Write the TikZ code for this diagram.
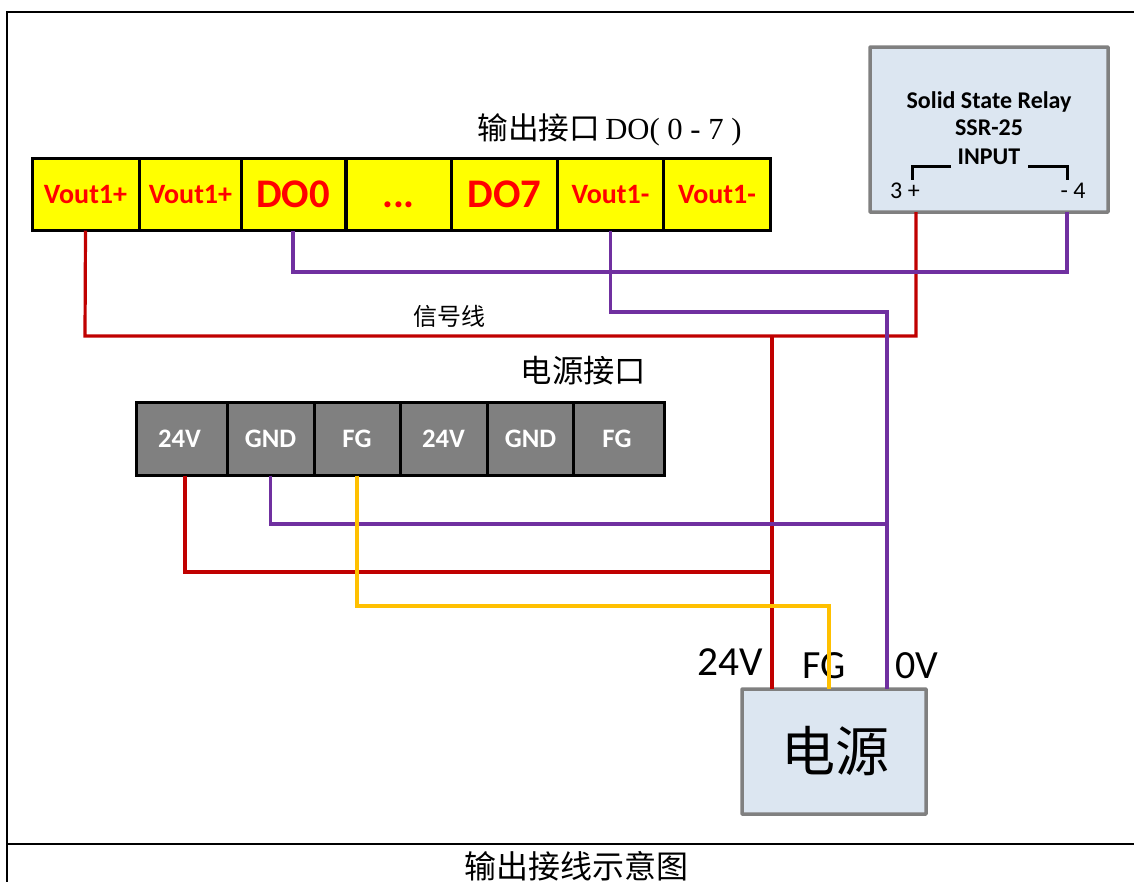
\documentclass[tikz,border=0pt]{standalone}
\usepackage{fontspec}
\setmainfont{Carlito}
\newfontfamily\cjk{Noto Sans CJK SC}
\newfontfamily\serifl{Liberation Serif}
\definecolor{wred}{HTML}{C00000}
\definecolor{wpur}{HTML}{7030A0}
\definecolor{wyel}{HTML}{FFC000}
\definecolor{boxblue}{HTML}{DCE6F1}
\definecolor{boxgray}{HTML}{808080}
\definecolor{cellyel}{HTML}{FFFF00}
\definecolor{cellred}{HTML}{FF0000}
\tikzset{
  x=0.75pt,y=-0.75pt,
  px/.style={line width=#1*0.75pt},
  cell/.style={draw=black,px=3,inner sep=0pt,outer sep=0pt,minimum height=54pt,align=center,text width=#1*0.75pt-3pt,minimum width=#1*0.75pt},
  ycell/.style={cell=#1,fill=cellyel,text=cellred,font=\fontsize{21}{24}\bfseries\selectfont,minimum height=54pt},
  bigcell/.style={ycell=#1,font=\fontsize{30.5}{36}\bfseries\selectfont},
  gcell/.style={cell=#1,fill=boxgray,text=white,font=\fontsize{20}{22}\bfseries\selectfont,minimum height=54.75pt},
  panel/.style={draw=boxgray,fill=boxblue,px=3.5,inner sep=0pt,outer sep=0pt,rounded corners=0.5pt},
  wire/.style={px=3.2,line join=miter},
  redw/.style={wire,draw=wred},
  purw/.style={wire,draw=wpur},
  yelw/.style={wire,draw=wyel},
  frame/.style={draw=black,px=2},
  brk/.style={draw=black,px=3},
  lab/.style={inner sep=0pt,outer sep=0pt,anchor=center}
}
\begin{document}
\begin{tikzpicture}
\useasboundingbox (0,0) rectangle (1134,882);
% frame
\coordinate (ftl) at (7,12); \coordinate (ftr) at (1134,12);
\coordinate (fbl) at (7,882); \coordinate (fml) at (7,844); \coordinate (fmr) at (1134,844);
\draw[frame] (ftr) -- (ftl) -- (fbl);
\draw[frame] (fml) -- (fmr);
% output terminal row
\node[ycell=107] (v1) at (85.5,194.5) {Vout1+};
\node[ycell=103] (v2) at (190.5,194.5) {Vout1+};
\node[bigcell=104] (do0) at (293,194.5) {DO0};
\node[bigcell=105] (dots) at (398.5,194.5) {\vphantom{D}...};
\node[bigcell=107] (do7) at (504.5,194.5) {DO7};
\node[ycell=106] (v3) at (610.5,194.5) {Vout1-};
\node[ycell=107] (v4) at (717,194.5) {Vout1-};
% power terminal row
\node[gcell=91] (p1) at (181.5,439) {24V\kern3pt};
\node[gcell=87] (p2) at (270.5,439) {GND};
\node[gcell=86] (p3) at (357,439) {FG};
\node[gcell=87] (p4) at (443.5,439) {24V};
\node[gcell=87] (p5) at (530.5,439) {GND};
\node[gcell=91] (p6) at (619,439) {FG\kern3pt};
% relay
\node[panel,minimum width=178.5pt,minimum height=123.75pt] (ssr) at (989,129.5) {};
\node[lab,font=\fontsize{18}{20}\bfseries\selectfont] (ssrt) at (989,102) {Solid State Relay};
\node[lab,font=\fontsize{18}{20}\bfseries\selectfont] (ssrm) at (989,128) {SSR-25};
\node[lab,font=\fontsize{18}{20}\bfseries\selectfont] (ssri) at (989,157) {INPUT};
\node[lab,font=\fontsize{18}{20}\selectfont] (s3) at (905,191) {3 +};
\node[lab,font=\fontsize{18}{20}\selectfont] (s4) at (1073,191) {- 4};
\coordinate (bl1) at (951,166); \coordinate (bl2) at (912,166); \coordinate (bl3) at (912,180);
\coordinate (br1) at (1028,166); \coordinate (br2) at (1067,166); \coordinate (br3) at (1067,180);
\draw[brk] (bl1) -- (bl2) -- (bl3);
\draw[brk] (br1) -- (br2) -- (br3);
% power supply
\node[panel,minimum width=138pt,minimum height=93.75pt] (psu) at (834,751.5) {};
\node[lab,font=\cjk\fontsize{40.5}{44}\selectfont] (psut) at (835,751) {电源};
% labels
\node[lab] (t1) at (609.5,130) {\fontsize{23}{26}\selectfont\cjk 输出接口\,\serifl DO( 0 - 7 )};
\node[lab,font=\cjk\fontsize{23.5}{27}\selectfont] (t2) at (583.5,371) {电源接口};
\node[lab,font=\cjk\fontsize{18}{22}\selectfont] (t3) at (449.5,316) {信号线};
\node[lab,font=\cjk\fontsize{24}{28}\selectfont] (t4) at (576.5,866) {输出接线示意图};
\node[lab,font=\fontsize{31}{34}\selectfont] (l24) at (730,662) {24V};
\node[lab,font=\fontsize{30}{32}\selectfont] (lfg) at (824.5,666) {FG};
\node[lab,font=\fontsize{30}{32}\selectfont] (l0v) at (916.5,666) {0V};
% junction points and off-centre terminal points
\coordinate (j1) at (85,336);
\coordinate (j2) at (772,336);
\coordinate (j3) at (916,336);
\coordinate (j4) at (887,312);
\coordinate (j5) at (887,524);
\coordinate (j6) at (772,572);
\coordinate (j7) at (829,606);
\coordinate (ssrp) at (916,212);
\coordinate (ssrn) at (1067,212);
\coordinate (p1s) at (185,476);
% wires
\draw[redw] (v1.south) -- (j1) -- (j3) -- (ssrp);
\draw[redw] (j2) -- (psu.north -| j2);
\draw[redw] (p1s) |- (j6);
\draw[purw] (do0.south) |- (1067,272) -- (ssrn);
\draw[purw] (v3.south) |- (j4) -- (psu.north -| j4);
\draw[purw] (p2.south) |- (j5);
\draw[yelw] (p3.south) |- (j7) -- (psu.north -| j7);
\end{tikzpicture}
\end{document}
